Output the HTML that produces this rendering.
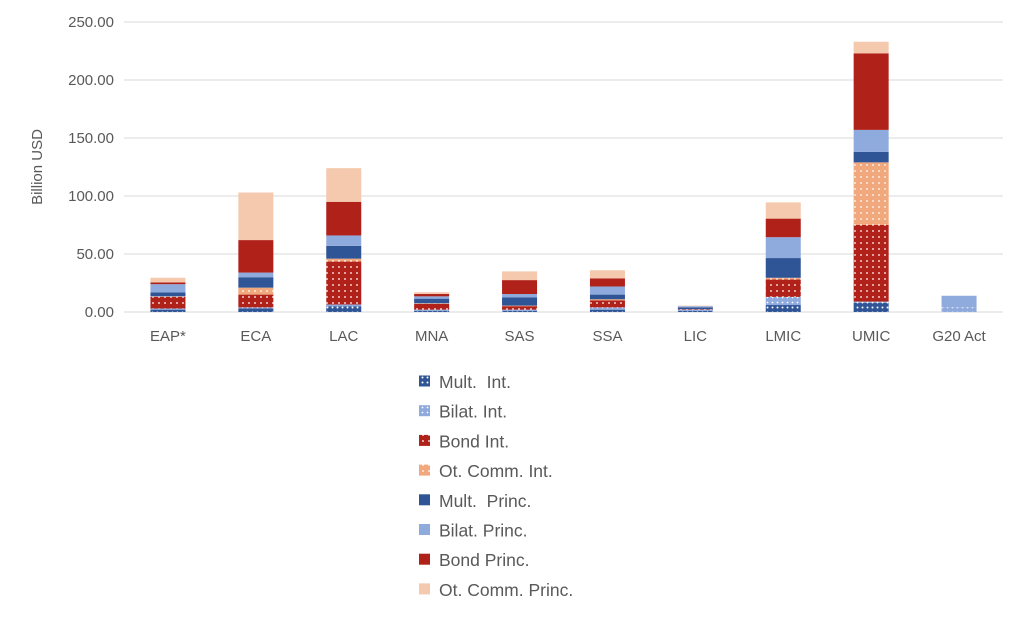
<!DOCTYPE html>
<html><head><meta charset="utf-8"><style>
body{margin:0;background:#fff;width:1024px;height:625px;overflow:hidden;font-family:"Liberation Sans",sans-serif;}
</style></head><body>
<svg id="chart" width="1024" height="625" xmlns="http://www.w3.org/2000/svg">
<defs>
<pattern id="p0" width="5" height="5" patternUnits="userSpaceOnUse"><rect width="5" height="5" fill="#2f5597"/><circle cx="2.5" cy="2.5" r="1" fill="#fff"/></pattern>
<pattern id="p1" width="5" height="5" patternUnits="userSpaceOnUse"><rect width="5" height="5" fill="#8faadc"/><circle cx="2.5" cy="2.5" r="0.9" fill="#fff"/></pattern>
<pattern id="p2" width="6" height="6" patternUnits="userSpaceOnUse"><rect width="6" height="6" fill="#b0211a"/><circle cx="3" cy="3" r="0.9" fill="#fff"/></pattern>
<pattern id="p3" width="6" height="6" patternUnits="userSpaceOnUse"><rect width="6" height="6" fill="#f0a87c"/><circle cx="3" cy="3" r="0.9" fill="#fff"/></pattern>
</defs>
<g id="grid"></g><g id="bars"></g><g id="legend"></g>
<text transform="translate(42,167) rotate(-90)" text-anchor="middle" font-size="15" fill="#595959">Billion USD</text>
</svg>
<script>
const categories=["EAP*","ECA","LAC","MNA","SAS","SSA","LIC","LMIC","UMIC","G20 Act"];
const seriesNames=["Mult.  Int.","Bilat. Int.","Bond Int.","Ot. Comm. Int.","Mult.  Princ.","Bilat. Princ.","Bond Princ.","Ot. Comm. Princ."];
const multInt=[2,3,5,1,1,2,1,6,8,0];
const bilatInt=[1,1,1.5,1,1,2,1,7,1,4];
const bondInt=[10,11,37,5,3,6,0.5,15,66,0];
const otCommInt=[0.5,6,2.5,0.5,0.5,1,0,1.5,54,0];
const multPrinc=[3.5,9,11,4,7,4,1.5,17,9,0];
const bilatPrinc=[7,4,9,2,3,7,1,18,19,10];
const bondPrinc=[1.5,28,29,2,12,7,0,16,66,0];
const otCommPrinc=[4,41,29,1.5,7.5,7,0.5,14,10,0];
const yTicks=[0,50,100,150,200,250];
const series=[multInt,bilatInt,bondInt,otCommInt,multPrinc,bilatPrinc,bondPrinc,otCommPrinc];
const fills=["url(#p0)","url(#p1)","url(#p2)","url(#p3)","#2f5597","#8faadc","#b0211a","#f4c9ad"];
const NS="http://www.w3.org/2000/svg";
const x0=124,x1=1003,y0=312,pxPer=1.16;
const yScale=v=>y0-v*pxPer;
const band=(x1-x0)/categories.length;
const xCenter=i=>x0+band*(i+0.5);
const grid=document.getElementById('grid');
yTicks.forEach(t=>{
 const l=document.createElementNS(NS,'line');
 
 
 l.setAttribute('x1',x0);l.setAttribute('x2',x1);l.setAttribute('y1',yScale(t));l.setAttribute('y2',yScale(t));
 l.setAttribute('stroke','#d9d9d9');l.setAttribute('stroke-width','1');
 grid.appendChild(l);
 const tx=document.createElementNS(NS,'text');
 
 
 tx.setAttribute('x',114);tx.setAttribute('y',yScale(t)+5);tx.setAttribute('text-anchor','end');
 tx.setAttribute('font-size','15');tx.setAttribute('fill','#595959');
 tx.textContent=t.toFixed(2);grid.appendChild(tx);
});
const bars=document.getElementById('bars');
categories.forEach((c,i)=>{
 let acc=0;
 series.forEach((s,k)=>{
  const v=s[i];if(v<=0)return;
  const r=document.createElementNS(NS,'rect');
  
  
  r.setAttribute('x',xCenter(i)-17.5);r.setAttribute('width',35);
  r.setAttribute('y',yScale(acc+v));r.setAttribute('height',v*pxPer);
  r.setAttribute('fill',fills[k]);
  bars.appendChild(r);acc+=v;
 });
 const tx=document.createElementNS(NS,'text');
 
 
 tx.setAttribute('x',xCenter(i));tx.setAttribute('y',341);tx.setAttribute('text-anchor','middle');
 tx.setAttribute('font-size','15');tx.setAttribute('fill','#595959');
 tx.textContent=c;bars.appendChild(tx);
});
const lg=document.getElementById('legend');
seriesNames.forEach((n,k)=>{
 const y=381.5+k*29.7;
 const r=document.createElementNS(NS,'rect');
 
 
 r.setAttribute('x',419);r.setAttribute('y',y-6);r.setAttribute('width',11);r.setAttribute('height',11);r.setAttribute('fill',fills[k]);
 lg.appendChild(r);
 const t=document.createElementNS(NS,'text');
 
 
 t.setAttribute('x',439);t.setAttribute('y',y+6.5);t.setAttribute('font-size','17.5');t.setAttribute('fill','#595959');
 t.setAttribute('xml:space','preserve');t.style.whiteSpace='pre';
 t.textContent=n;lg.appendChild(t);
});
</script>
</body></html>
